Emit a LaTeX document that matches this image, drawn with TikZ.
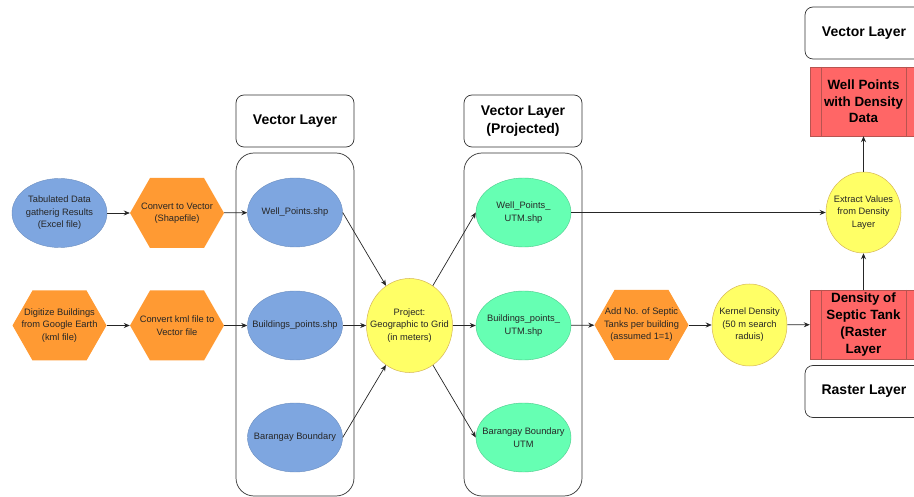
\documentclass[tikz,border=0pt]{standalone}
\usepackage{fontspec}
\setmainfont{Liberation Sans}
\usetikzlibrary{shapes.geometric,arrows.meta}
\definecolor{shpblue}{HTML}{7EA6E0}
\definecolor{shpblueline}{HTML}{6C8EBF}
\definecolor{toolorange}{HTML}{FF9A33}
\definecolor{utmgreen}{HTML}{66FFB3}
\definecolor{greenline}{HTML}{4CC98B}
\definecolor{stepyellow}{HTML}{FFFF66}
\definecolor{yellowline}{HTML}{D6B656}
\definecolor{outred}{HTML}{FF6666}
\definecolor{outredline}{HTML}{B85450}
\definecolor{wire}{HTML}{262626}
\begin{document}
\begin{tikzpicture}[x=1pt, y=-1pt,
    every node/.style={font=\fontsize{9.3}{12.5}\selectfont, text=black!85, align=center, inner sep=0pt},
    oval/.style={ellipse, inner xsep=-14pt, inner ysep=0pt},
    shpfile/.style={oval, fill=shpblue, draw=shpblueline, line width=0.4pt, minimum width=95, minimum height=69},
    utmfile/.style={oval, fill=utmgreen, draw=greenline, line width=0.4pt, minimum width=95, minimum height=69},
    toolhex/.style={rectangle, minimum width=94, minimum height=70,
        path picture={
            \fill[toolorange] (path picture bounding box.west)
                -- ([xshift=20pt]path picture bounding box.north west)
                -- ([xshift=-20pt]path picture bounding box.north east)
                -- (path picture bounding box.east)
                -- ([xshift=-20pt]path picture bounding box.south east)
                -- ([xshift=20pt]path picture bounding box.south west) -- cycle;
        }},
    stepcirc/.style={oval, fill=stepyellow, draw=yellowline, line width=0.5pt},
    outbox/.style={rectangle, fill=outred, draw=outredline, line width=0.4pt, minimum width=107, minimum height=69,
        font=\bfseries\fontsize{13.4}{16.7}\selectfont, text=black,
        path picture={
            \draw[outredline, line width=0.4pt] ([xshift=11pt]path picture bounding box.north west) -- ([xshift=11pt]path picture bounding box.south west);
            \draw[outredline, line width=0.4pt] ([xshift=-11pt]path picture bounding box.north east) -- ([xshift=-11pt]path picture bounding box.south east);
        }},
    titlebox/.style={rectangle, draw=black!80, line width=0.7pt, rounded corners=8pt, minimum width=118, minimum height=52,
        font=\bfseries\fontsize{14}{18}\selectfont, text=black},
    groupbox/.style={rectangle, draw=black!80, line width=0.7pt, rounded corners=18pt, minimum width=118, minimum height=343},
    flow/.style={draw=wire, line width=0.7pt, -{Stealth[length=6pt, width=5pt]}}
  ]
    \useasboundingbox (0,0) rectangle (914,497);
    \clip (0,0) rectangle (914,497);

    % Draw the layer frames
    \node[groupbox] (vecgroup) at (295, 324.5) {};
    \node[groupbox] (utmgroup) at (523, 324.5) {};
    \node[titlebox] (vectitle) at (295, 121) {Vector Layer};
    \node[titlebox] (utmtitle) at (523, 121) {Vector Layer\\(Projected)};
    \node[titlebox] (outtitle) at (864, 33) {Vector Layer};
    \node[titlebox] (rastitle) at (864, 391.5) {Raster Layer};

    % Draw the input data and conversions
    \node[shpfile] (tabdata) at (59.5, 213) {Tabulated Data\\gatherig Results\\(Excel file)};
    \node[toolhex] (digitize) at (59.5, 325.5) {Digitize Buildings\\from Google Earth\\(kml file)};
    \node[toolhex] (tovector) at (177, 213) {Convert to Vector\\(Shapefile)};
    \node[toolhex] (kmlvector) at (177, 325.5) {Convert kml file to\\Vector file};

    % Draw the shapefiles
    \node[shpfile] (wellshp) at (295, 212.5) {Well\_Points.shp};
    \node[shpfile] (bldgshp) at (295, 325.5) {Buildings\_points.shp};
    \node[shpfile] (brgyshp) at (295, 437.5) {Barangay Boundary};

    % Draw the projection step
    \node[stepcirc, minimum width=86, minimum height=94] (project) at (409.5, 325.5) {Project:\\Geographic to Grid\\(in meters)};

    % Draw the projected shapefiles
    \node[utmfile] (wellutm) at (523.5, 212.5) {Well\_Points\_\\UTM.shp};
    \node[utmfile] (bldgutm) at (523.5, 325.5) {Buildings\_points\_\\UTM.shp};
    \node[utmfile] (brgyutm) at (523.5, 437.5) {Barangay Boundary\\UTM};

    % Draw the density steps
    \node[toolhex] (septic) at (641.5, 325) {Add No. of Septic\\Tanks per building\\(assumed 1=1)};
    \node[stepcirc, minimum width=75, minimum height=82] (kernel) at (749.5, 325) {Kernel Density\\(50 m search\\raduis)};
    \node[outbox] (density) at (863.5, 324.5) {Density of\\Septic Tank\\(Raster\\Layer};
    \node[stepcirc, minimum width=75, minimum height=81] (extract) at (863.5, 212.5) {Extract Values\\from Density\\Layer};
    \node[outbox] (wellout) at (863.5, 101.5) {Well Points\\with Density\\Data};

    % Draw the arrows
    \draw[flow] (tabdata) -- (tovector);
    \draw[flow] (tovector) -- (wellshp);
    \draw[flow] (digitize) -- (kmlvector);
    \draw[flow] (kmlvector) -- (bldgshp);
    \draw[flow] (wellshp.east) -- (project);
    \draw[flow] (bldgshp) -- (project);
    \draw[flow] (brgyshp.east) -- (project);
    \draw[flow] (project) -- (wellutm.west);
    \draw[flow] (project) -- (bldgutm);
    \draw[flow] (project) -- (brgyutm.west);
    \draw[flow] (wellutm) -- (extract);
    \draw[flow] (bldgutm) -- (septic);
    \draw[flow] (septic) -- (kernel);
    \draw[flow] (kernel) -- (density);
    \draw[flow] (density) -- (extract);
    \draw[flow] (extract) -- (wellout);
\end{tikzpicture}
\end{document}
